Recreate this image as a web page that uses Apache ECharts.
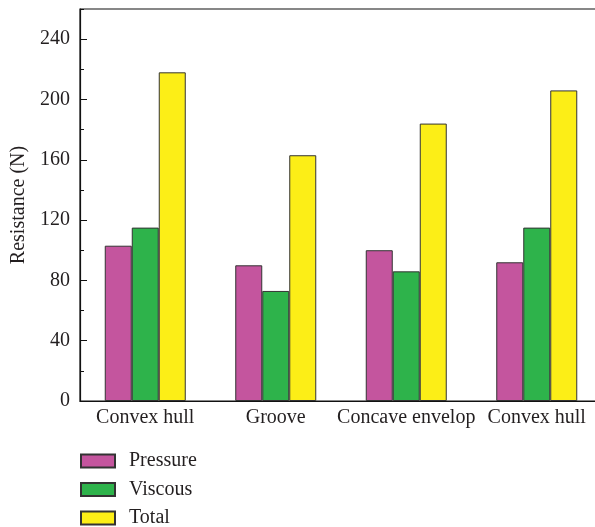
<!DOCTYPE html>
<html>
<head>
<meta charset="utf-8">
<script src="https://cdn.jsdelivr.net/npm/echarts@6/dist/echarts.min.js"></script>
<style>
  html, body { margin: 0; padding: 0; background: #fff; }
  #chart { width: 595px; height: 527px; }
</style>
</head>
<body>
<div id="chart"></div>
<script>
// 数据
const categories = ['Convex hull', 'Groove', 'Concave envelop', 'Convex hull']
const pressure = [103, 90, 100, 92]
const viscous = [115, 73, 86, 115]
const total = [218, 163, 184, 206]

const FONT = 'Liberation Serif'
const INK = '#231f20'
const FS = 20

const chart = echarts.init(document.getElementById('chart'))

const barStyle = (color) => ({
  color: color,
  borderColor: '#333',
  borderWidth: 1
})

const option = {
  animation: false,
  backgroundColor: '#fff',
  textStyle: { fontFamily: FONT, color: INK },
  grid: {
    left: 80, top: 9, right: -7, bottom: 126,
    outerBoundsMode: 'none',
    show: true,
    borderColor: '#111',
    borderWidth: 1.2
  },
  legend: {
    orient: 'vertical',
    left: 80,
    top: 451,
    height: 100,
    padding: 0,
    icon: 'rect',
    itemWidth: 34,
    itemHeight: 13,
    itemGap: 8.5,
    textStyle: {
      fontFamily: FONT, fontSize: FS, color: INK,
      lineHeight: 20, padding: [0, 0, 0, 9]
    },
    data: ['Pressure', 'Viscous', 'Total']
  },
  xAxis: [
    {
      type: 'category',
      data: categories,
      position: 'bottom',
      axisLine: { lineStyle: { color: '#111', width: 1.2 } },
      axisTick: { inside: true, length: 5, lineStyle: { color: '#111' } },
      axisLabel: { interval: 0, fontFamily: FONT, fontSize: FS, color: INK, margin: 7 },
      splitLine: { show: false }
    },
    {
      // 组中心的刻度
      type: 'category',
      data: categories,
      position: 'bottom',
      z: 5,
      axisLine: { show: false },
      axisTick: { inside: true, alignWithLabel: true, length: 5, lineStyle: { color: '#111' } },
      axisLabel: { show: false },
      splitLine: { show: false }
    }
  ],
  yAxis: [
    {
      type: 'value',
      min: 0,
      max: 260,
      interval: 40,
      position: 'left',
      name: 'Resistance (N)',
      nameLocation: 'middle',
      nameGap: 44,
      nameTextStyle: { fontFamily: FONT, fontSize: FS, color: INK },
      axisLine: { show: true, lineStyle: { color: '#111', width: 1.2 } },
      axisTick: { show: true, inside: true, length: 7, lineStyle: { color: '#111' } },
      axisLabel: { fontFamily: FONT, fontSize: FS, color: INK, margin: 10, showMaxLabel: false },
      splitLine: { show: false }
    },
    {
      // 次刻度
      type: 'value',
      min: 0,
      max: 260,
      interval: 20,
      position: 'left',
      axisLine: { show: false },
      axisTick: { show: true, inside: true, length: 4, lineStyle: { color: '#111' } },
      axisLabel: { show: false },
      splitLine: { show: false }
    }
  ],
  series: [
    { name: 'Pressure', type: 'bar', data: pressure, barWidth: 27, barGap: '0%', itemStyle: barStyle('#c4559e') },
    { name: 'Viscous', type: 'bar', data: viscous, barWidth: 27, barGap: '0%', itemStyle: barStyle('#2eb34b') },
    { name: 'Total', type: 'bar', data: total, barWidth: 27, barGap: '0%', itemStyle: barStyle('#fcee17') }
  ]
}

chart.setOption(option)
</script>
</body>
</html>
